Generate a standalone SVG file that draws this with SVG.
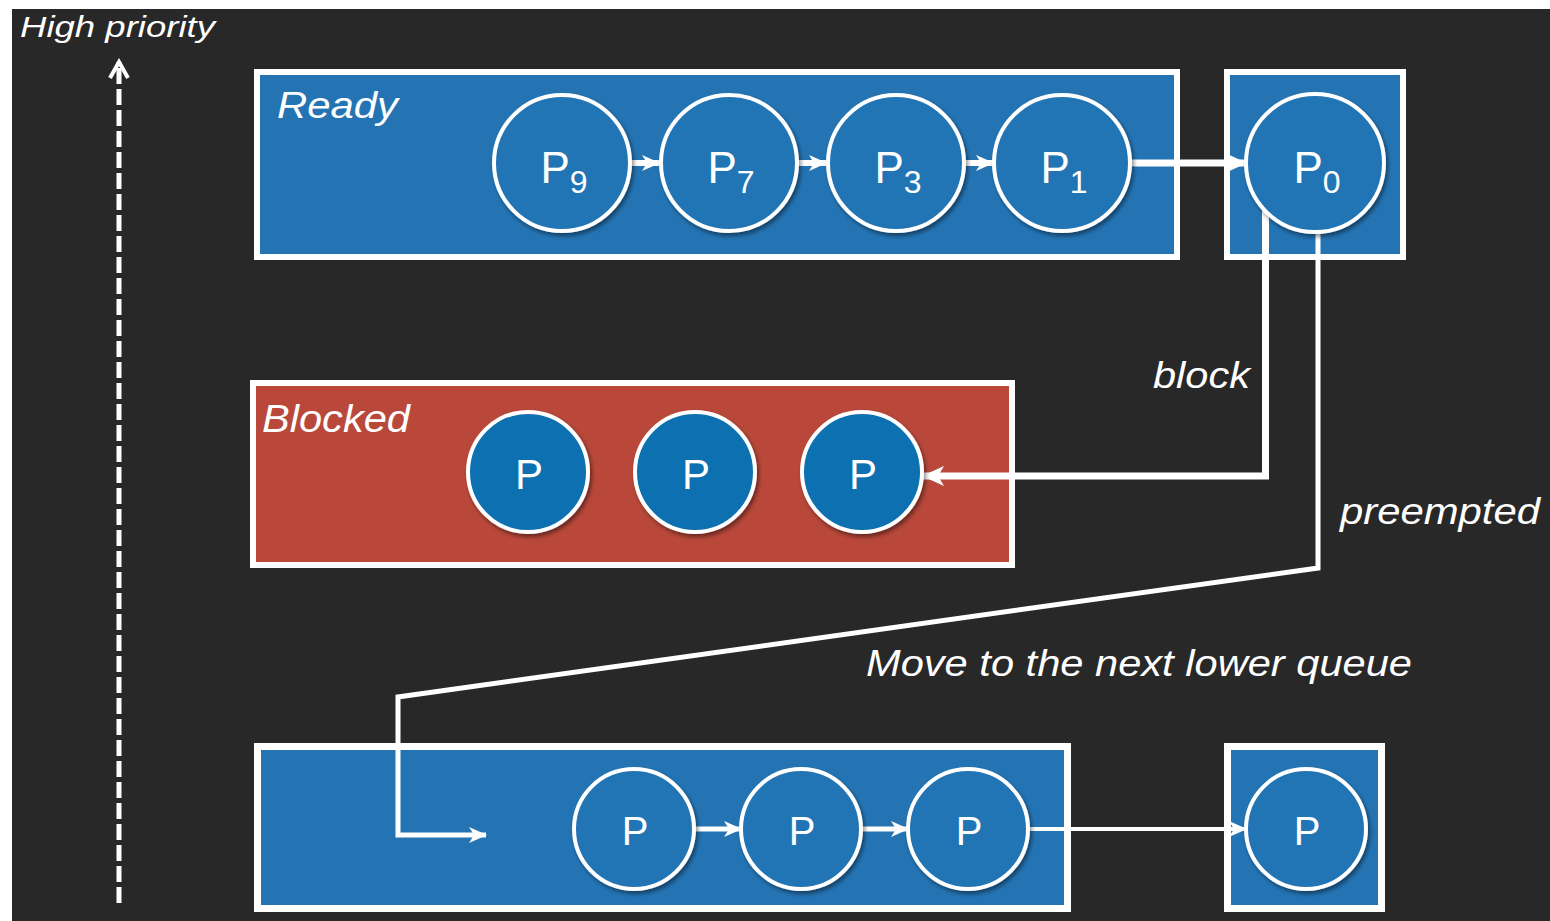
<svg xmlns="http://www.w3.org/2000/svg" width="1550" height="921" viewBox="0 0 1550 921">
  <defs>
    <style>
      .bg { fill: #282828; }
      .box { stroke: #ffffff; }
      .blue { fill: #2474b4; }
      .red { fill: #b9483a; }
      .proc { stroke: #ffffff; stroke-width: 4; filter: url(#shadow); }
      .proc-light { fill: #2474b4; }
      .proc-dark { fill: #0f6fb0; }
      .plabel { font-family: "Liberation Sans", Arial, sans-serif; fill: #ffffff; text-anchor: middle; }
      .caption { font-family: "Liberation Sans", Arial, sans-serif; font-style: italic; fill: #ffffff; }
      .conn { fill: none; stroke: #ffffff; stroke-linejoin: miter; }
    </style>
    <filter id="shadow" x="-20%" y="-20%" width="150%" height="150%">
      <feDropShadow dx="2" dy="3" stdDeviation="2" flood-color="#000000" flood-opacity="0.45"/>
    </filter>
    <marker id="head" viewBox="0 0 18 18" refX="17" refY="9" markerWidth="18" markerHeight="18" markerUnits="userSpaceOnUse" orient="auto">
      <path d="M0,1 L18,9 L0,17 L5,9 z" fill="#ffffff"/>
    </marker>
    <marker id="head-lg" viewBox="0 0 22 22" refX="21" refY="11" markerWidth="22" markerHeight="22" markerUnits="userSpaceOnUse" orient="auto">
      <path d="M0,1 L22,11 L0,21 L6,11 z" fill="#ffffff"/>
    </marker>
    <marker id="head-open" viewBox="0 0 24 24" refX="20" refY="12" markerWidth="24" markerHeight="24" markerUnits="userSpaceOnUse" orient="auto">
      <path d="M4,3 L20,12 L4,21" fill="none" stroke="#ffffff" stroke-width="4"/>
    </marker>
  </defs>

  <!-- canvas -->
  <rect class="bg" x="12" y="9" width="1538" height="912"/>

  <!-- queue boxes -->
  <g id="ready-queue">
    <rect class="box blue" x="257" y="72" width="920" height="185" stroke-width="6"/>
    <text class="caption" x="277" y="118" font-size="36" textLength="121" lengthAdjust="spacingAndGlyphs">Ready</text>
  </g>
  <g id="running-slot">
    <rect class="box blue" x="1227" y="72" width="176" height="185" stroke-width="6"/>
  </g>
  <g id="blocked-queue">
    <rect class="box red" x="253" y="383" width="759" height="182" stroke-width="6"/>
    <text class="caption" x="262" y="432" font-size="38" textLength="148" lengthAdjust="spacingAndGlyphs">Blocked</text>
  </g>
  <g id="lower-queue">
    <rect class="box blue" x="257.5" y="746.5" width="810" height="162" stroke-width="7"/>
  </g>
  <g id="lower-slot">
    <rect class="box blue" x="1227.5" y="746.5" width="154" height="162" stroke-width="7"/>
  </g>

  <!-- priority axis -->
  <g id="priority-axis">
    <line class="conn" x1="119" y1="903" x2="119" y2="62" stroke-width="5" stroke-dasharray="16 5" marker-end="url(#head-open)"/>
    <text class="caption" x="20" y="37" font-size="30" textLength="195" lengthAdjust="spacingAndGlyphs">High priority</text>
  </g>

  <!-- connectors -->
  <g id="connectors">
    <line class="conn" x1="628" y1="163" x2="659" y2="163" stroke-width="6" marker-end="url(#head)"/>
    <line class="conn" x1="795" y1="163" x2="826" y2="163" stroke-width="6" marker-end="url(#head)"/>
    <line class="conn" x1="962" y1="163" x2="993" y2="163" stroke-width="6" marker-end="url(#head)"/>
    <line class="conn" x1="1128" y1="163" x2="1246" y2="163" stroke-width="7" marker-end="url(#head-lg)"/>
    <path class="conn" d="M1265.5,205 V476 H923" stroke-width="7" marker-end="url(#head-lg)"/>
    <path class="conn" d="M1318,225 V568 L398,697 V835 H486" stroke-width="5" marker-end="url(#head)"/>
    <line class="conn" x1="692" y1="829" x2="741" y2="829" stroke-width="5" marker-end="url(#head)"/>
    <line class="conn" x1="859" y1="829" x2="908" y2="829" stroke-width="5" marker-end="url(#head)"/>
    <line class="conn" x1="1026" y1="829" x2="1246" y2="829" stroke-width="4" marker-end="url(#head)"/>
    <text class="caption" x="1153" y="388" font-size="36" textLength="97" lengthAdjust="spacingAndGlyphs">block</text>
    <text class="caption" x="1340" y="524" font-size="36" textLength="200" lengthAdjust="spacingAndGlyphs">preempted</text>
    <text class="caption" x="866" y="676" font-size="36" textLength="546" lengthAdjust="spacingAndGlyphs">Move to the next lower queue</text>
  </g>

  <!-- ready processes -->
  <g id="p9">
    <circle class="proc proc-light" cx="562" cy="163" r="68"/>
    <text class="plabel" x="564" y="183" font-size="44">P<tspan font-size="32" dy="10">9</tspan></text>
  </g>
  <g id="p7">
    <circle class="proc proc-light" cx="729" cy="163" r="68"/>
    <text class="plabel" x="731" y="183" font-size="44">P<tspan font-size="32" dy="10">7</tspan></text>
  </g>
  <g id="p3">
    <circle class="proc proc-light" cx="896" cy="163" r="68"/>
    <text class="plabel" x="898" y="183" font-size="44">P<tspan font-size="32" dy="10">3</tspan></text>
  </g>
  <g id="p1">
    <circle class="proc proc-light" cx="1062" cy="163" r="68"/>
    <text class="plabel" x="1064" y="183" font-size="44">P<tspan font-size="32" dy="10">1</tspan></text>
  </g>
  <g id="p0">
    <circle class="proc proc-light" cx="1315" cy="163" r="69"/>
    <text class="plabel" x="1317" y="183" font-size="44">P<tspan font-size="32" dy="10">0</tspan></text>
  </g>

  <!-- blocked processes -->
  <g id="blocked-1">
    <circle class="proc proc-dark" cx="528" cy="472" r="60"/>
    <text class="plabel" x="529" y="489" font-size="42">P</text>
  </g>
  <g id="blocked-2">
    <circle class="proc proc-dark" cx="695" cy="472" r="60"/>
    <text class="plabel" x="696" y="489" font-size="42">P</text>
  </g>
  <g id="blocked-3">
    <circle class="proc proc-dark" cx="862" cy="472" r="60"/>
    <text class="plabel" x="863" y="489" font-size="42">P</text>
  </g>

  <!-- lower queue processes -->
  <g id="lower-1">
    <circle class="proc proc-light" cx="634" cy="829" r="60"/>
    <text class="plabel" x="635" y="845" font-size="40">P</text>
  </g>
  <g id="lower-2">
    <circle class="proc proc-light" cx="801" cy="829" r="60"/>
    <text class="plabel" x="802" y="845" font-size="40">P</text>
  </g>
  <g id="lower-3">
    <circle class="proc proc-light" cx="968" cy="829" r="60"/>
    <text class="plabel" x="969" y="845" font-size="40">P</text>
  </g>
  <g id="lower-slot-proc">
    <circle class="proc proc-light" cx="1306" cy="829" r="60"/>
    <text class="plabel" x="1307" y="845" font-size="40">P</text>
  </g>
</svg>
